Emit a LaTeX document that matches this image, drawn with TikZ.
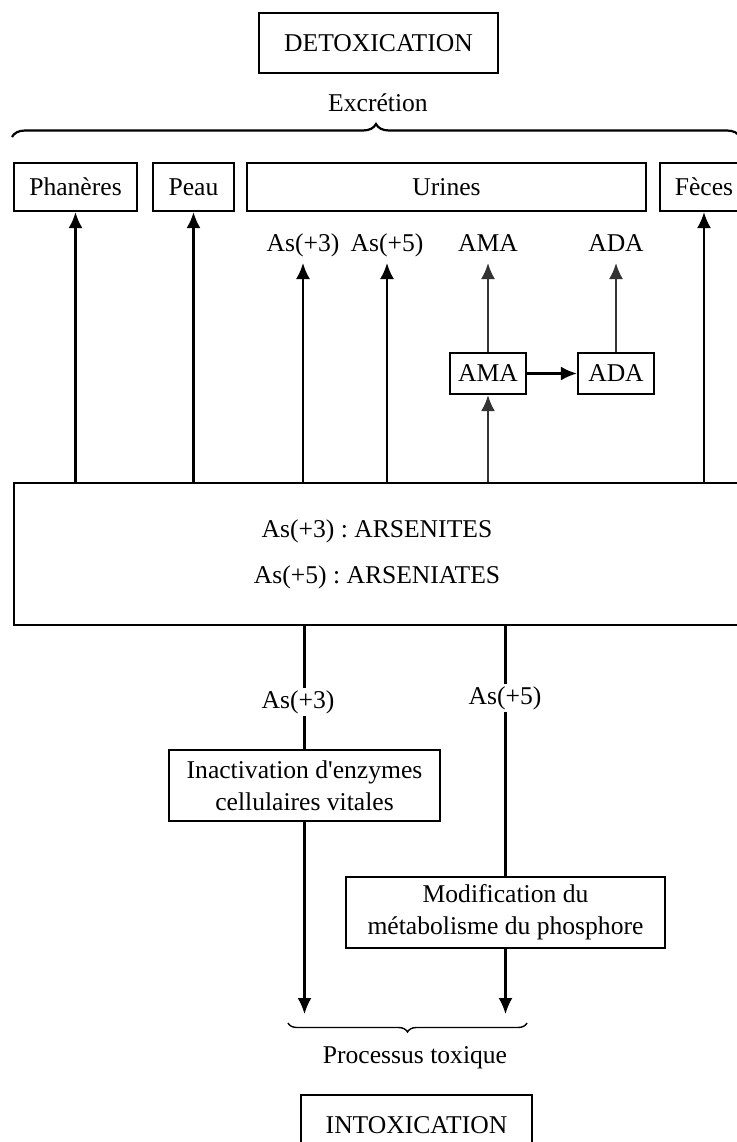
\documentclass[tikz,border=0pt]{standalone}
\usepackage{fontspec}
\setmainfont{Liberation Serif}
\usetikzlibrary{arrows.meta,decorations.pathreplacing}

\begin{document}
\begin{tikzpicture}[x=.5pt,y=-.5pt,font=\fontsize{12.8}{16}\selectfont\frenchspacing,
  >={Latex[length=8pt,width=7pt]},line width=1.1pt,
  box/.style={draw,inner sep=0pt,align=center,minimum height=24pt},
  lbl/.style={inner sep=2pt,text height=9pt,text depth=3pt},
  gline/.style={draw=black!80}]
 \path[use as bounding box,clip] (0,0) rectangle (737,1142);
 \node[box,minimum width=119.5pt,minimum height=30pt] (detox) at (378.5,43) {DETOXICATION};
 \node (excr) at (378,103) {Excrétion};
 \draw[decorate,decoration={brace,amplitude=6.5pt}] (12,137) -- (740,137);
 \foreach \n/\cx/\w/\t in {phan/75.5/61.5pt/Phanères,peau/193.5/40.5pt/Peau,
   urines/446.5/199.5pt/Urines,feces/704/44pt/Fèces}{
  \node[box,minimum width=\w] (\n) at (\cx,187) {\t};
 }
 \foreach \n/\cx/\t in {l3/303/As(+3),l5/387/As(+5),lama/488/AMA,lada/616/ADA}{
  \node[lbl,anchor=south] (\n) at (\cx,263) {\t};
 }
 \node[box,minimum width=363pt,minimum height=71pt] (main) at (377,554)
   {As(+3) : ARSENITES\\[7pt]As(+5) : ARSENIATES};
 \node[box,minimum width=38pt,minimum height=20.5pt] (ama) at (488,373.5) {AMA};
 \node[box,minimum width=38pt,minimum height=20.5pt] (ada) at (616,373.5) {ADA};
 \foreach \n in {phan,peau,l3,l5,feces}{
  \draw[->] (main.north -| \n) -- (\n);
 }
 \draw[->,gline] (main.north -| ama) -- (ama);
 \draw[->,gline] (ama) -- (lama);
 \draw[->] (ama) -- (ada);
 \draw[->,gline] (ada) -- (lada);
 \node[box,minimum width=135.5pt,minimum height=35.5pt] (inact) at (304.5,785.5)
   {Inactivation d\textquotesingle enzymes\\cellulaires vitales};
 \node[box,minimum width=159.5pt,minimum height=35.5pt] (modif) at (505.5,912.5)
   {Modification du\\métabolisme du phosphore};
 \draw (main.south -| inact) -- (inact);
 \draw (main.south -| modif) -- (modif);
 \node[fill=white,inner sep=1pt] (d3) at (298,702) {As(+3)};
 \node[fill=white,inner sep=1pt] (d5) at (505,698) {As(+5)};
 \coordinate (t3) at (304.5,1014);
 \coordinate (t5) at (505.5,1014);
 \draw[->] (inact) -- (t3);
 \draw[->] (modif) -- (t5);
 \draw[decorate,decoration={brace,mirror,amplitude=4.5pt},line width=.7pt] (288,1023) -- (527,1023);
 \node (proc) at (415,1058) {Processus toxique};
 \node[box,minimum width=115.5pt,minimum height=30pt] (intox) at (416.5,1125) {INTOXICATION};
\end{tikzpicture}
\end{document}
